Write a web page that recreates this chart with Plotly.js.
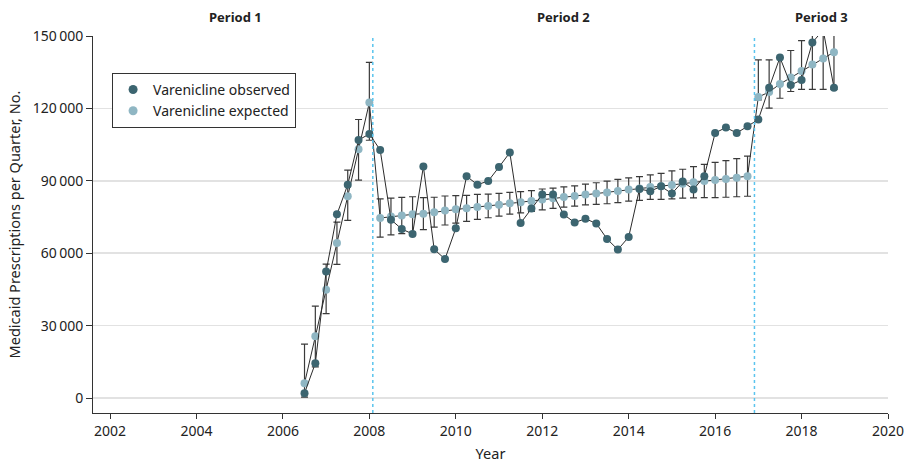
<!DOCTYPE html>
<html>
<head>
<meta charset="utf-8">
<script src="https://cdn.plot.ly/plotly-3.0.1.min.js"></script>
<style>html,body{margin:0;padding:0;background:#fff;}#chart{width:907px;height:463px;}</style>
</head>
<body>
<div id="chart"></div>
<script>
const quarters = [2006.5,2006.75,2007,2007.25,2007.5,2007.75,2008,
  2008.25,2008.5,2008.75,2009,2009.25,2009.5,2009.75,2010,2010.25,2010.5,2010.75,2011,2011.25,2011.5,2011.75,
  2012,2012.25,2012.5,2012.75,2013,2013.25,2013.5,2013.75,2014,2014.25,2014.5,2014.75,2015,2015.25,2015.5,2015.75,
  2016,2016.25,2016.5,2016.75,
  2017,2017.25,2017.5,2017.75,2018,2018.25,2018.5,2018.75];

const observed = [2000,14400,52400,76100,88400,106900,109400,
  102800,73900,70000,68000,95900,61600,57600,70300,91900,88400,89900,95700,101700,72500,78500,
  84300,84300,76000,72700,74300,72300,65900,61500,66700,86600,85700,87700,84700,89700,86400,91900,
  109800,112100,109800,112600,
  115400,128600,141100,129700,131800,147300,152500,128600];

const expected = [6100,25600,44900,64200,83600,103100,122400,
  74600,75200,75600,76100,76400,77000,77700,78200,78600,79200,79600,80100,80700,81100,81600,
  82300,82800,83300,83700,84300,84700,85200,85800,86400,86800,87400,87700,88300,88800,89400,89900,
  90300,90800,91300,91900,
  124700,126800,130100,132800,135500,138200,140700,143300];

const expectedUpper = [22300,38100,55500,72900,94400,115400,139100,
  82500,82800,83100,83400,83000,83200,83700,83900,84000,84400,84500,84800,85200,85500,85900,
  86600,87000,87500,87900,88600,89200,89900,90600,91200,91700,92500,93100,94100,94800,95900,96800,
  97600,98400,99200,100200,
  140100,140100,141000,144000,148100,152000,154000,156000];

const expectedLower = [400,12900,35000,55400,73600,90300,106800,
  66700,67600,68100,68800,69800,70800,71700,72500,73200,74000,74700,75400,76200,76700,77300,
  78000,78600,79100,79500,80000,80200,80500,81000,81600,81900,82300,82300,82500,82800,82900,83000,
  83000,83200,83400,83600,
  123500,120100,124200,127000,127900,127900,127900,127900];

const periodBreaks = [2008.08, 2016.91];
const periodLabels = ['Period 1','Period 2','Period 3'];
const periodLabelX = [2004.9, 2012.5, 2018.46];

const xTickVals = [2002,2004,2006,2008,2010,2012,2014,2016,2018,2020];
const yTickVals = [0,30000,60000,90000,120000,150000];
const yTickText = ['0','30\u2009000','60\u2009000','90\u2009000','120\u2009000','150\u2009000'];

const seriesNames = ['Varenicline observed','Varenicline expected'];
const darkColor = '#3c6570';
const lightColor = '#8fb6c3';
const FONT = '"Noto Sans", "Open Sans", sans-serif';

const errPlus = expected.map((v,i)=>expectedUpper[i]-v);
const errMinus = expected.map((v,i)=>v-expectedLower[i]);

const traces = [
  {
    x: quarters, y: expected, type: 'scatter', mode: 'lines+markers',
    name: seriesNames[1], showlegend: false,
    line: {color: '#2b2b2b', width: 1},
    marker: {color: lightColor, size: 8},
    error_y: {type: 'data', array: errPlus, arrayminus: errMinus, symmetric: false,
              color: '#3a3a3a', thickness: 1.2, width: 3.5}
  },
  {
    x: quarters, y: observed, type: 'scatter', mode: 'lines+markers',
    name: seriesNames[0], showlegend: false,
    line: {color: '#2b2b2b', width: 1},
    marker: {color: darkColor, size: 8}
  },
  {
    x: [null], y: [null], type: 'scatter', mode: 'markers', name: seriesNames[0],
    marker: {color: darkColor, size: 9}
  },
  {
    x: [null], y: [null], type: 'scatter', mode: 'markers', name: seriesNames[1],
    marker: {color: lightColor, size: 9}
  }
];

const shapes = periodBreaks.map(b => ({
  type: 'line', xref: 'x', yref: 'paper', x0: b, x1: b, y0: 0, y1: 1,
  line: {color: '#5ac4ee', width: 1.5, dash: 'dot'}, layer: 'above'
}));

const annotations = periodLabels.map((t,i) => ({
  text: '<b>' + t + '</b>', x: periodLabelX[i], xref: 'x', y: 1.0496, yref: 'paper',
  yanchor: 'middle', xanchor: 'center', showarrow: false,
  font: {family: FONT, size: 13, color: '#222'}
}));

const layout = {
  width: 907, height: 463,
  margin: {l: 93, r: 19, t: 36, b: 50, pad: 0},
  paper_bgcolor: '#fff', plot_bgcolor: '#fff',
  font: {family: FONT, size: 14, color: '#222'},
  showlegend: true,
  legend: {
    x: 0.024, y: 0.902, xanchor: 'left', yanchor: 'top',
    bgcolor: '#fff', bordercolor: '#333', borderwidth: 1,
    font: {family: FONT, size: 14, color: '#222'},
    itemwidth: 30, tracegroupgap: 0
  },
  xaxis: {
    range: [2001.606, 2020], tickvals: xTickVals, ticktext: xTickVals.map(String),
    showgrid: false, zeroline: false, showline: true, linecolor: '#333', linewidth: 1,
    ticks: 'outside', ticklen: 5, tickcolor: '#333', tickwidth: 1,
    tickfont: {family: FONT, size: 14, color: '#222'},
    title: {text: 'Year', font: {family: FONT, size: 14.5, color: '#222'}, standoff: 10},
    automargin: false
  },
  yaxis: {
    range: [-6200, 150000], tickvals: yTickVals, ticktext: yTickText,
    showgrid: true, gridcolor: '#e2e2e2', gridwidth: 1.5, zeroline: false,
    showline: true, linecolor: '#333', linewidth: 1,
    ticks: 'outside', ticklen: 6, tickcolor: '#333', tickwidth: 1,
    tickfont: {family: FONT, size: 14, color: '#222'},
    title: {text: 'Medicaid Prescriptions per Quarter, No.', font: {family: FONT, size: 14.5, color: '#222'}, standoff: 8},
    automargin: false
  },
  shapes: shapes,
  annotations: annotations
};

Plotly.newPlot('chart', traces, layout, {displayModeBar: false, staticPlot: true});
</script>
</body>
</html>
